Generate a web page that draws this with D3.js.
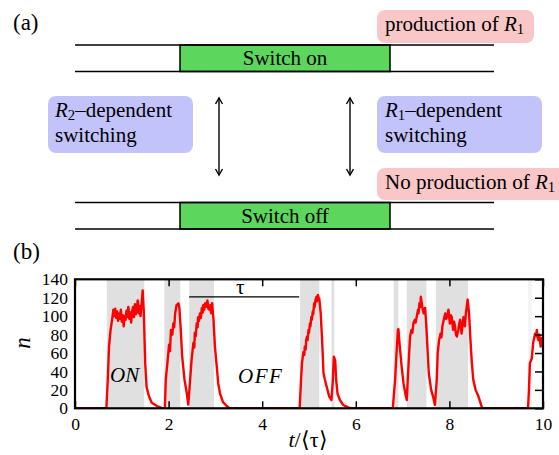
<!DOCTYPE html>
<html>
<head>
<meta charset="utf-8">
<script src="https://cdn.jsdelivr.net/npm/d3@7"></script>
<style>
  body { margin: 0; background: #fff; }
  svg { display: block; }
</style>
</head>
<body>
<div id="chart"></div>
<script>
// ---- data ----
var xTicks = [0, 2, 4, 6, 8, 10];
var yTicks = [0, 20, 40, 60, 80, 100, 120, 140];

// shaded "switch on" intervals, in units of <tau>
var onStart = [0.68, 1.91, 2.44, 4.81, 5.48, 6.81, 7.09, 7.71];
var onEnd   = [1.48, 2.25, 2.97, 5.22, 5.54, 6.91, 7.51, 8.40];
var faintStart = [9.68], faintEnd = [9.76];

// tau bar (from one switch on to the next)
var tauBar = [2.44, 4.79], tauLevel = 121;

// the trace n(t)
var tVals = [
  0, 0.67, 0.70, 0.727, 0.76, 0.80, 0.82,
  0.84, 0.86, 0.88, 0.90, 0.92, 0.94, 0.96, 0.98, 1.00, 1.02, 1.04, 1.06, 1.08, 1.10,
  1.12, 1.14, 1.16, 1.18, 1.20, 1.22, 1.24, 1.26, 1.28, 1.30, 1.32, 1.34, 1.36, 1.38, 1.40, 1.42,
  1.446, 1.47, 1.50, 1.53, 1.58, 1.64, 1.75, 1.85, 1.92,
  1.94, 1.98, 2.01, 2.03, 2.05, 2.08, 2.10, 2.12, 2.14, 2.17, 2.21, 2.23, 2.26, 2.29, 2.34, 2.39, 2.42,
  2.46, 2.49, 2.53, 2.55, 2.56, 2.58, 2.60, 2.62, 2.63, 2.65, 2.67, 2.69, 2.71, 2.73, 2.74, 2.76,
  2.78, 2.80, 2.83, 2.85, 2.87, 2.89, 2.91, 2.93, 2.96, 2.99, 3.03, 3.06, 3.10, 3.16, 3.24, 3.30,
  4.80, 4.83, 4.85, 4.88, 4.90, 4.91, 4.93, 4.94, 4.96, 4.97, 4.99, 5.00, 5.02, 5.03, 5.05, 5.06,
  5.08, 5.09, 5.11, 5.12, 5.14, 5.16, 5.17, 5.19, 5.21, 5.22, 5.25, 5.28, 5.31, 5.34, 5.38, 5.43,
  5.48, 5.51, 5.53, 5.56, 5.58, 5.61, 5.66, 5.73, 5.84, 5.90,
  6.79, 6.84, 6.87, 6.90, 6.91, 6.94, 6.98, 7.02, 7.07, 7.09, 7.11, 7.14, 7.16, 7.19, 7.21, 7.23,
  7.26, 7.28, 7.30, 7.33, 7.34, 7.36, 7.38, 7.39, 7.42, 7.45, 7.48, 7.50, 7.53, 7.56, 7.61, 7.66, 7.69,
  7.73, 7.75, 7.78, 7.81, 7.83, 7.85, 7.88, 7.91, 7.93, 7.95, 7.98, 8.01, 8.03, 8.05, 8.08, 8.10,
  8.12, 8.14, 8.16, 8.19, 8.21, 8.23, 8.26, 8.28, 8.30, 8.33, 8.35, 8.37, 8.39, 8.42, 8.45, 8.48,
  8.51, 8.56, 8.62, 8.67, 8.70,
  9.68, 9.70, 9.72, 9.76, 9.79, 9.83, 9.85, 9.87, 9.88, 9.90, 9.92, 9.95, 9.97, 10.0
];
var nVals = [
  0, 0, 31, 67, 85, 99, 107,
  100, 108, 98, 105, 95, 103, 97, 107, 94, 101, 89, 100, 96, 106,
  99, 110, 97, 104, 93, 105, 110, 99, 113, 102, 108, 117, 103, 111, 100, 112,
  128, 105, 49, 23, 13, 6, 2.5, 0.5, 0,
  31, 52, 69, 62, 85, 80, 92, 88, 103, 112, 114, 109, 85, 56, 31, 16, 4,
  31, 52, 71, 66, 82, 78, 92, 88, 99, 95, 103, 98, 109, 104, 112, 107,
  114, 110, 117, 108, 107, 112, 103, 114, 96, 67, 45, 27, 16, 7, 2.5, 0,
  0, 31, 49, 61, 58, 67, 64, 74, 78, 74, 85, 82, 92, 89, 99, 96,
  105, 102, 114, 110, 118, 121, 116, 123, 119, 119, 103, 74, 38, 31, 23, 13,
  9, 31, 56, 52, 31, 16, 9, 3.6, 1, 0,
  0, 31, 60, 85, 86, 67, 45, 27, 13, 9, 31, 60, 78, 85, 82, 92,
  96, 93, 99, 107, 103, 114, 110, 121, 110, 103, 109, 96, 67, 38, 20, 11, 3.6,
  31, 60, 74, 81, 77, 89, 96, 103, 97, 99, 107, 92, 101, 99, 85, 94,
  89, 80, 78, 85, 92, 96, 81, 90, 99, 89, 102, 110, 118, 103, 74, 49,
  31, 20, 13, 5, 0,
  0, 20, 49, 54, 71, 81, 79, 85, 78, 74, 80, 67, 76, 74
];

// ---- drawing ----
var W = 559, H = 455;
var serif = 'Liberation Serif';
var svg = d3.select('#chart').append('svg').attr('width', W).attr('height', H);

function txt(parent, xx, yy, size) {
  return parent.append('text').attr('x', xx).attr('y', yy)
    .attr('font-family', serif).attr('font-size', size).attr('fill', '#000');
}

// helper: text with italic R and subscript
function rLabel(sel, sub, rest, before) {
  if (before) sel.append('tspan').text(before);
  sel.append('tspan').attr('font-style', 'italic').text('R');
  sel.append('tspan').attr('font-size', '0.7em').attr('baseline-shift', '-3px').text(sub);
  if (rest) sel.append('tspan').text(rest);
}

// ===== panel (a) =====
var pa = svg.append('g');
txt(pa, 13, 30, 23).text('(a)');

function switchBar(yTop, label) {
  var yBot = yTop + 26.5;
  pa.append('rect').attr('x', 180).attr('y', yTop).attr('width', 210).attr('height', yBot - yTop)
    .attr('fill', '#5cd65c').attr('stroke', '#000').attr('stroke-width', 1.5);
  pa.append('line').attr('x1', 75).attr('x2', 494).attr('y1', yTop).attr('y2', yTop)
    .attr('stroke', '#000').attr('stroke-width', 1.6);
  pa.append('line').attr('x1', 75).attr('x2', 494).attr('y1', yBot).attr('y2', yBot)
    .attr('stroke', '#000').attr('stroke-width', 1.6);
  txt(pa, 285, yTop + 20, 21).attr('text-anchor', 'middle').text(label);
}
switchBar(45, 'Switch on');
switchBar(202.5, 'Switch off');

function dblArrow(x) {
  var y1 = 98, y2 = 175;
  var g = pa.append('g').attr('stroke', '#000').attr('stroke-width', 1.4).attr('fill', 'none');
  g.append('line').attr('x1', x).attr('x2', x).attr('y1', y1).attr('y2', y2);
  g.append('path').attr('d', 'M' + (x - 3.5) + ',' + (y1 + 6) + 'L' + x + ',' + y1 + 'L' + (x + 3.5) + ',' + (y1 + 6));
  g.append('path').attr('d', 'M' + (x - 3.5) + ',' + (y2 - 6) + 'L' + x + ',' + y2 + 'L' + (x + 3.5) + ',' + (y2 - 6));
}
dblArrow(219);
dblArrow(350);

// coloured boxes
pa.append('rect').attr('x', 48).attr('y', 96).attr('width', 145).attr('height', 57).attr('rx', 8)
  .attr('fill', '#c3c3fb');
pa.append('rect').attr('x', 377).attr('y', 96).attr('width', 165).attr('height', 57).attr('rx', 8)
  .attr('fill', '#c3c3fb');
pa.append('rect').attr('x', 377).attr('y', 10).attr('width', 157).attr('height', 33).attr('rx', 8)
  .attr('fill', '#f9c7c7');
pa.append('rect').attr('x', 377).attr('y', 168).attr('width', 190).attr('height', 32).attr('rx', 8)
  .attr('fill', '#f9c7c7');

rLabel(txt(pa, 55, 117, 21), '2', '\u2013dependent');
txt(pa, 55, 142, 21).text('switching');
rLabel(txt(pa, 385, 117, 21), '1', '\u2013dependent');
txt(pa, 385, 142, 21).text('switching');
rLabel(txt(pa, 385, 31, 21), '1', null, 'production of ');
rLabel(txt(pa, 385, 189, 21), '1', null, 'No production of ');

// ===== panel (b) =====
var x = d3.scaleLinear().domain([0, 10]).range([75, 543]);
var y = d3.scaleLinear().domain([0, 140]).range([408.3, 279.3]);

txt(svg, 13, 259, 23).text('(b)');

svg.append('defs').append('clipPath').attr('id', 'plotClip')
  .append('rect').attr('x', 75).attr('y', 279.3).attr('width', 468).attr('height', 129);

var bands = svg.append('g');
bands.selectAll('rect.on').data(d3.zip(onStart, onEnd)).enter().append('rect')
  .attr('class', 'on')
  .attr('x', d => x(d[0])).attr('width', d => x(d[1]) - x(d[0]))
  .attr('y', y(140)).attr('height', y(0) - y(140))
  .attr('fill', '#e0e0e0');
bands.selectAll('rect.faint').data(d3.zip(faintStart, faintEnd)).enter().append('rect')
  .attr('class', 'faint')
  .attr('x', d => x(d[0])).attr('width', d => x(d[1]) - x(d[0]))
  .attr('y', y(140)).attr('height', y(0) - y(140))
  .attr('fill', '#f4f4f4');

// tau bar
svg.append('line')
  .attr('x1', x(tauBar[0])).attr('x2', x(tauBar[1]))
  .attr('y1', y(tauLevel)).attr('y2', y(tauLevel))
  .attr('stroke', '#000').attr('stroke-width', 1.3);
txt(svg, (x(tauBar[0]) + x(tauBar[1])) / 2 - 4, y(tauLevel) - 3, 21)
  .attr('text-anchor', 'middle').text('\u03c4');

// state labels
txt(svg, 110, 382, 21).attr('font-style', 'italic').text('ON');
txt(svg, 238, 383, 21).attr('font-style', 'italic').attr('letter-spacing', 1.5).text('OFF');

// trace
var line = d3.line().x(d => x(d[0])).y(d => y(d[1]));
svg.append('path').datum(d3.zip(tVals, nVals))
  .attr('clip-path', 'url(#plotClip)')
  .attr('d', line).attr('fill', 'none').attr('stroke', '#ff0000')
  .attr('stroke-width', 2.4).attr('stroke-linejoin', 'round');

// axes
var axB = svg.append('g').attr('transform', 'translate(0,' + y(0) + ')')
  .call(d3.axisBottom(x).tickValues(xTicks).tickSize(-7).tickPadding(9).tickFormat(d3.format('d')));
var axT = svg.append('g').attr('transform', 'translate(0,' + y(140) + ')')
  .call(d3.axisTop(x).tickValues(xTicks).tickSize(-7).tickFormat(''));
var axR = svg.append('g').attr('transform', 'translate(' + x(10) + ',0)')
  .call(d3.axisRight(y).tickValues(yTicks).tickSize(-8).tickFormat(''));
var axL = svg.append('g').attr('transform', 'translate(' + x(0) + ',0)')
  .call(d3.axisLeft(y).tickValues(yTicks).tickSize(0).tickPadding(7));

[axB, axT, axR, axL].forEach(function(a) {
  a.attr('font-family', null).attr('font-size', null);
  a.select('.domain').remove();
  a.selectAll('.tick line').attr('stroke', '#000').attr('stroke-width', 1.5);
  a.selectAll('text').attr('fill', '#000').attr('font-family', serif).attr('font-size', 17.5);
});

// frame
svg.append('rect').attr('x', x(0)).attr('y', y(140)).attr('width', x(10) - x(0)).attr('height', y(0) - y(140))
  .attr('fill', 'none').attr('stroke', '#000').attr('stroke-width', 2.2);

// axis titles
txt(svg, 0, 0, 23).attr('transform', 'translate(30,' + 343 + ') rotate(-90)')
  .attr('text-anchor', 'middle').attr('font-style', 'italic').text('n');
var xl = txt(svg, 308, 447, 22).attr('text-anchor', 'middle');
xl.append('tspan').attr('font-style', 'italic').text('t');
xl.append('tspan').text('/\u27e8\u03c4\u27e9');
</script>
</body>
</html>
